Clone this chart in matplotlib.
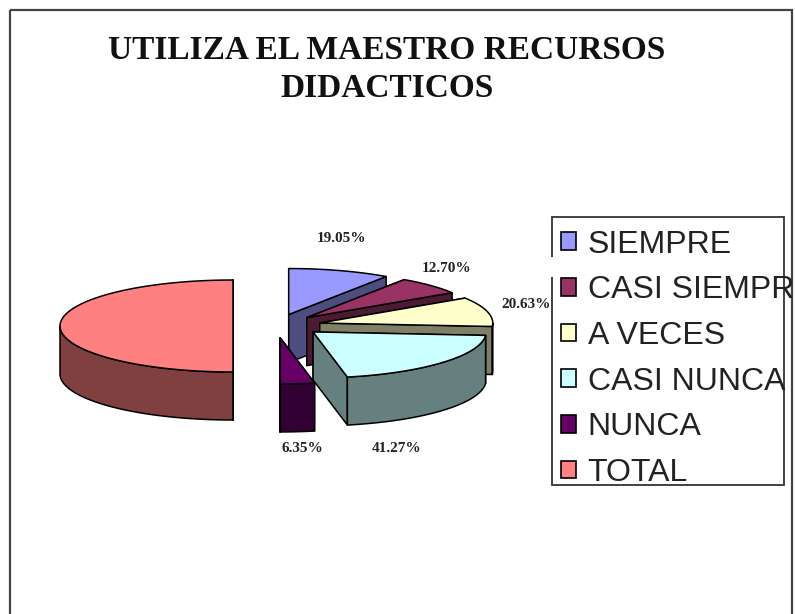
import numpy as np
import matplotlib
matplotlib.use("Agg")
import matplotlib.pyplot as plt
from matplotlib.patches import Polygon, Rectangle

title = "UTILIZA EL MAESTRO RECURSOS\nDIDACTICOS"
categories = ["SIEMPRE", "CASI SIEMPR", "A VECES", "CASI NUNCA", "NUNCA", "TOTAL"]
values = [19.05, 12.70, 20.63, 41.27, 6.35, 100.0]
value_labels = ["19.05%", "12.70%", "20.63%", "41.27%", "6.35%", None]
colors = ["#9999FF", "#993366", "#FFFFCC", "#CCFFFF", "#660066", "#FF8080"]
label_pos = [(341, 238), (447, 268), (526, 304), (397, 448), (302, 448), None]
explode_x_scale = [1, 1, 1.05, 1.15, 1, 1]
explode_y_scale = [1, 1, 1, 0.75, 1, 1]
draw_order = [0, 1, 2, 5, 3, 4]

W, H = 795, 614
CX, CY = 276, 326
A, B = 173, 46
DEPTH = 48
EXPLODE_X, EXPLODE_Y = 43, 12

fig = plt.figure(figsize=(W / 100, H / 100), dpi=100, facecolor="white")
ax = fig.add_axes([0, 0, 1, 1])
ax.set_xlim(0, W)
ax.set_ylim(H, 0)
ax.axis("off")

ax.add_patch(Rectangle((9.5, 10), 782, 640, fill=False, ec="#444444", lw=1.6, zorder=1))


def dark(c):
    rgb = np.array(matplotlib.colors.to_rgb(c)) * 0.5
    return tuple(rgb)


def pts(cx, cy, deg):
    t = np.radians(deg)
    return np.column_stack([cx + A * np.sin(t), cy - B * np.cos(t)])


edges = np.concatenate([[0], np.cumsum(values)]) / sum(values) * 360
z = 2
for i in draw_order:
    a0, a1 = edges[i], edges[i + 1]
    mid = np.radians((a0 + a1) / 2)
    cx = CX + EXPLODE_X * explode_x_scale[i] * np.sin(mid)
    cy = CY - EXPLODE_Y * explode_y_scale[i] * np.cos(mid)
    apex = np.array([[cx, cy]])
    down = np.array([0, DEPTH])
    kw = dict(ec="black", lw=1.1, joinstyle="round")
    # radial walls
    for ang in (a0, a1):
        p = pts(cx, cy, ang)
        ax.add_patch(Polygon(np.vstack([apex, p, p + down, apex + down]),
                             fc=dark(colors[i]), zorder=z, **kw))
        z += 1
    # outer wall, front-facing part only
    lo, hi = max(a0, 90), min(a1, 270)
    if hi > lo:
        arc = pts(cx, cy, np.linspace(lo, hi, 60))
        ax.add_patch(Polygon(np.vstack([arc, (arc + down)[::-1]]),
                             fc=dark(colors[i]), zorder=z, **kw))
        z += 1
    # top
    arc = pts(cx, cy, np.linspace(a0, a1, 80))
    ax.add_patch(Polygon(np.vstack([apex, arc]), fc=colors[i], zorder=z, **kw))
    z += 1

# legend
handles = [Rectangle((0, 0), 1, 1, fc=c, ec="black", lw=1.2) for c in colors]
leg = ax.legend(handles, categories, loc="upper left",
                bbox_to_anchor=(547 / W, 1 - 216 / H), borderaxespad=0,
                frameon=False, prop={"family": "Liberation Sans", "size": 23},
                handlelength=0.47, handleheight=0.47, handletextpad=0.38,
                labelspacing=0.49, borderpad=0.425,
                labelcolor="#222222")
leg.set_zorder(z + 2)
ax.add_patch(Rectangle((551.5, 216.5), 232, 268, fc="white", ec="#333333", lw=1.3, zorder=z))
ax.add_patch(Rectangle((547, 257), 8, 20, fc="white", ec="none", zorder=z + 1))

for lab, pos in zip(value_labels, label_pos):
    if lab:
        ax.text(pos[0], pos[1], lab, ha="center", va="center", family="Liberation Serif",
                weight="bold", fontsize=11, color="#222222", zorder=z + 3)

ax.text(387, 69.5, title, ha="center", va="center", family="Liberation Serif", weight="bold",
        fontsize=24, linespacing=1.33, color="#111111", zorder=z + 3)

fig.savefig("out.png", dpi=100)
